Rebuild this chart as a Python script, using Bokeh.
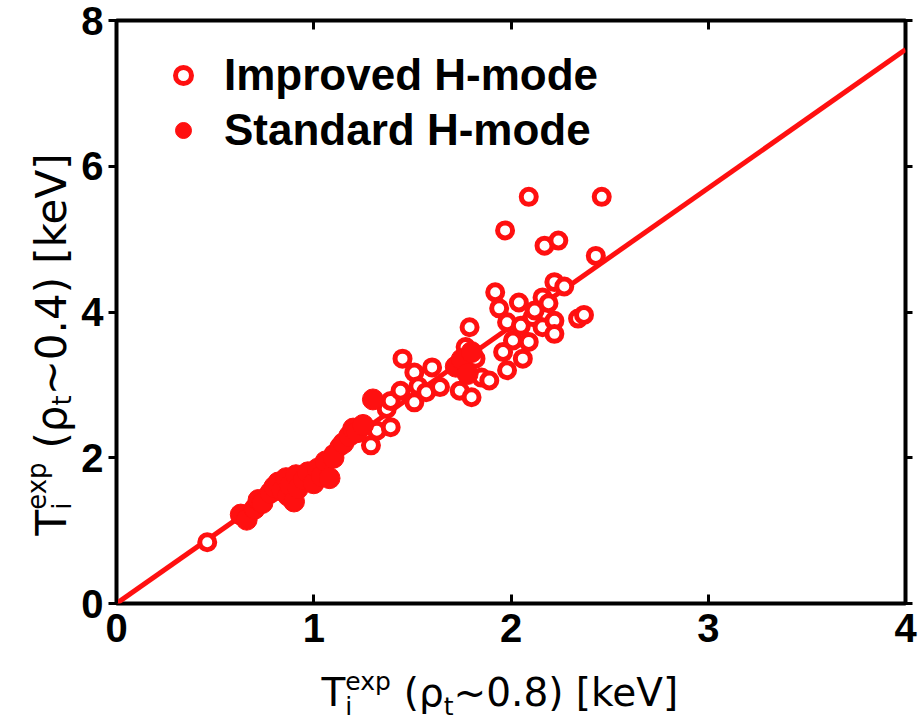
from bokeh.plotting import figure
from bokeh.layouts import row, column
from bokeh.models import (Range1d, FixedTicker, LinearAxis, Legend, LegendItem, Label)
from bokeh.core.validation import silence
from bokeh.core.validation.warnings import MISSING_RENDERERS
from bokeh.embed import file_html
from bokeh.resources import INLINE

# Ion temperature at rho_t~0.8 (x) versus rho_t~0.4 (y), keV
improved_x = [0.46, 1.10, 1.13, 1.29, 1.32, 1.37, 1.39, 1.39, 1.44, 1.45, 1.51, 1.51,
              1.53, 1.57, 1.60, 1.64, 1.74, 1.77, 1.79, 1.80, 1.82, 1.85, 1.89, 1.92,
              1.94, 1.96, 1.97, 1.98, 1.98, 2.01, 2.04, 2.05, 2.06, 2.09, 2.09, 2.11,
              2.16, 2.16, 2.17, 2.22, 2.22, 2.22, 2.24, 2.34, 2.37, 2.43, 2.46,
              2.12, 2.19, 2.27]
improved_y = [0.84, 2.05, 2.15, 2.17, 2.37, 2.67, 2.42, 2.78, 2.92, 3.36, 2.76, 3.17,
              2.98, 2.90, 3.24, 2.97, 2.92, 3.52, 3.79, 2.83, 3.36, 3.10, 3.06, 4.27,
              4.05, 3.45, 5.12, 3.86, 3.20, 3.61, 4.13, 3.81, 3.36, 5.58, 3.59, 3.93,
              4.20, 3.79, 4.91, 4.41, 3.88, 3.70, 4.98, 3.91, 3.96, 4.77, 5.58,
              4.02, 4.12, 4.35]
standard_x = [0.63, 0.66, 0.70, 0.72, 0.74, 0.78, 0.80, 0.82, 0.84, 0.86, 0.87, 0.88,
              0.90, 0.91, 0.92, 0.95, 0.97, 1.00, 1.02, 1.04, 1.06, 1.08, 1.10, 1.15,
              1.18, 1.20, 1.22, 1.25, 1.30, 1.72, 1.75, 1.78, 1.80]
standard_y = [1.22, 1.15, 1.30, 1.42, 1.38, 1.52, 1.60, 1.66, 1.55, 1.72, 1.48, 1.62,
              1.40, 1.76, 1.58, 1.70, 1.80, 1.65, 1.85, 1.75, 1.95, 1.72, 2.00, 2.20,
              2.30, 2.40, 2.35, 2.45, 2.80, 3.25, 3.35, 3.15, 3.45]
# linear scaling line through the origin
fit_x = [0.0, 4.0]
fit_y = [0.0, 7.6]

x_ticks = [0, 1, 2, 3, 4]
y_ticks = [0, 2, 4, 6, 8]

RED = "#ff1010"
TICK_FONT = "Liberation Sans"
LABEL_FONT = "DejaVu Sans"

PAGE_W, PAGE_H = 919, 728
YTITLE_W = 78          # strip holding the vertical axis title
MAIN_H = 662           # main plot height; the horizontal title sits below it
BORDER_L, BORDER_R = 37, 14
FRAME_LEFT = YTITLE_W + BORDER_L

silence(MISSING_RENDERERS, True)

p = figure(width=PAGE_W - YTITLE_W, height=MAIN_H, output_backend="svg",
           toolbar_location=None, x_range=Range1d(0, 4), y_range=Range1d(0, 8),
           min_border_left=BORDER_L, min_border_right=BORDER_R,
           min_border_top=20, min_border_bottom=59)
p.grid.visible = False
p.outline_line_color = "black"
p.outline_line_width = 4
p.outline_line_alpha = 1.0
p.background_fill_color = "white"
p.border_fill_color = "white"


def style_axis(ax, ticks, tick_in, tick_out, show_labels, standoff=0):
    ax.ticker = FixedTicker(ticks=ticks, minor_ticks=[])
    ax.axis_line_color = None
    ax.major_tick_in = tick_in
    ax.major_tick_out = tick_out
    ax.major_tick_line_color = "black"
    ax.major_tick_line_width = 3
    ax.minor_tick_line_color = None
    ax.major_label_standoff = standoff
    if show_labels:
        ax.major_label_text_font = TICK_FONT
        ax.major_label_text_font_style = "bold"
        ax.major_label_text_font_size = "40px"
        ax.major_label_text_color = "black"
    else:
        ax.major_label_text_font_size = "1px"
        ax.major_label_text_color = None


style_axis(p.xaxis[0], x_ticks, 9, 0, True, 10)
style_axis(p.yaxis[0], y_ticks, 0, 8, True, 5)
top_axis = LinearAxis()
right_axis = LinearAxis()
p.add_layout(top_axis, "above")
p.add_layout(right_axis, "right")
style_axis(top_axis, x_ticks, 9, 0, False)
style_axis(right_axis, y_ticks, 0, 7, False)

p.line(fit_x, fit_y, line_color=RED, line_width=5)
imp = p.scatter(improved_x, improved_y, marker="circle", size=15,
                line_color=RED, line_width=5, fill_color="white")
std = p.scatter(standard_x, standard_y, marker="circle", size=21,
                line_color=RED, line_width=1, fill_color=RED)

legend = Legend(items=[LegendItem(label="Improved H-mode", renderers=[imp]),
                       LegendItem(label="Standard H-mode", renderers=[std])],
                location="top_left", margin=30, padding=0,
                glyph_width=74, glyph_height=40, label_standoff=4, spacing=5,
                label_text_font=TICK_FONT, label_text_font_style="bold",
                label_text_font_size="44px", label_text_color="black",
                border_line_color=None, background_fill_alpha=0)
p.add_layout(legend)


def text_strip(width, height, left=0, right=0):
    f = figure(width=width, height=height, output_backend="svg", toolbar_location=None,
               x_range=Range1d(0, 1), y_range=Range1d(0, 1),
               min_border_left=left, min_border_right=right,
               min_border_top=0, min_border_bottom=0,
               x_axis_location=None, y_axis_location=None)
    f.grid.visible = False
    f.xgrid.visible = False
    f.ygrid.visible = False
    f.outline_line_color = None
    f.background_fill_color = "white"
    f.border_fill_color = "white"
    return f


ytitle_fig = text_strip(YTITLE_W, PAGE_H)
xtitle_fig = text_strip(PAGE_W - YTITLE_W, PAGE_H - MAIN_H, BORDER_L, BORDER_R)

# advance widths (em) of DejaVu Sans for laying out the composite axis titles
ADV = {"T": .611, "i": .278, "e": .615, "x": .592, "p": .635, " ": .318,
       "(": .390, "ρ": .635, "t": .392, "~": .838, "0": .636, ".": .318,
       "8": .636, "4": .636, ")": .390, "[": .390, "k": .579, "V": .684, "]": .390}
DESCENT = 0.25   # label anchor sits this fraction of the font size below the baseline


def width(text, size):
    return sum(ADV.get(c, .6) for c in text) * size


def title_run(fig, origin, groups, x0, y0, vertical):
    """x0, y0: baseline start in page pixels from the top-left; origin: page
    position of the figure frame's bottom-left corner. Pieces inside one group
    share a start."""
    ox, oy = origin
    adv = 0.0
    for group in groups:
        for text, size, rise in group:
            if text.strip():
                r = rise + DESCENT * size
                if vertical:
                    X, Y, angle = x0 - r, y0 - adv, 1.5707963267948966
                else:
                    X, Y, angle = x0 + adv, y0 - r, 0.0
                fig.add_layout(Label(x=X - ox, y=oy - Y, x_units="screen", y_units="screen",
                                     text=text, angle=angle, text_font=LABEL_FONT,
                                     text_font_size=f"{size}px", text_color="black",
                                     text_baseline="alphabetic", text_align="left"))
        adv += max(width(t, s) for t, s, r in group)


def ti_title(rho, big, small, sub_drop, sup_rise):
    return [[("T", big, 0)],
            [("i", small, -sub_drop), ("exp", small, sup_rise)],
            [(" ", big, 0)],
            [("(ρ", big, 0)],
            [("t", small, -sub_drop)],
            [(f"~{rho})", big, 0)],
            [(" ", big, 0)],
            [("[keV]", big, 0)]]


title_run(xtitle_fig, (FRAME_LEFT, PAGE_H), ti_title("0.8", 39, 25, 10, 15), 320, 702, False)
title_run(ytitle_fig, (0, PAGE_H), ti_title("0.4", 42, 26, 7, 18), 61, 535, True)

page = row(ytitle_fig, column(p, xtitle_fig))
open("out.html", "w").write(file_html(page, INLINE))
